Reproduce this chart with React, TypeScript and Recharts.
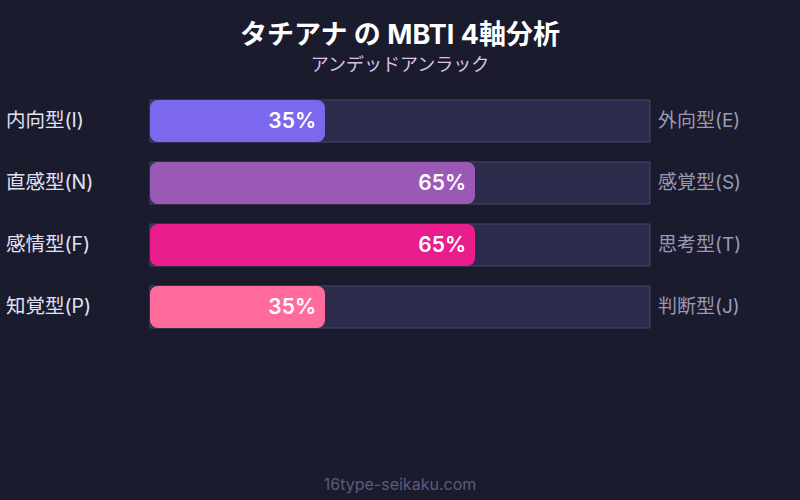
import React from "react";
import { BarChart, Bar, XAxis, YAxis, LabelList } from "recharts";

const leftLabels = ["内向型(I)", "直感型(N)", "感情型(F)", "知覚型(P)"];
const rightLabels = ["外向型(E)", "感覚型(S)", "思考型(T)", "判断型(J)"];
const scores = [35, 65, 65, 35];
const barColors = ["#7b68ee", "#9b59b6", "#e91e8c", "#ff6b9d"];

const data = leftLabels.map((left, i) => ({
  left,
  right: rightLabels[i],
  value: scores[i],
  color: barColors[i],
}));

const FONT = "Inter, 'Noto Sans CJK JP', sans-serif";

const SideLabel = (x: number, fill: string, size: number) => (props: any) => {
  const { y, height, value } = props;
  return (
    <text
      x={x}
      y={y + height / 2}
      dy={6}
      fill={fill}
      fontSize={size}
      fontWeight={400}
      fontFamily={FONT}
      textAnchor="start"
    >
      {value}
    </text>
  );
};

const RoundedBar = (props: any) => {
  const { x, y, width, height, payload } = props;
  return <rect x={x} y={y} width={width} height={height} rx={8} ry={8} fill={payload.color} />;
};

export default function App() {
  return (
    <div
      style={{
        position: "fixed",
        top: 0,
        left: 0,
        width: 800,
        height: 500,
        background: "#1b1b2e",
        fontFamily: FONT,
      }}
    >
      <div
        style={{
          position: "absolute",
          top: 13,
          width: 800,
          textAlign: "center",
          color: "#ffffff",
          fontSize: 27,
          fontWeight: 700,
        }}
      >
        タチアナ の MBTI 4軸分析
      </div>
      <div
        style={{
          position: "absolute",
          top: 50,
          width: 800,
          textAlign: "center",
          color: "#dcc3e6",
          fontSize: 18,
        }}
      >
        アンデッドアンラック
      </div>
      <BarChart
        width={800}
        height={500}
        data={data}
        layout="vertical"
        margin={{ top: 90, right: 150, bottom: 162, left: 150 }}
        barSize={42}
        style={{ position: "absolute", top: 0, left: 0 }}
      >
        <XAxis type="number" domain={[0, 100]} hide />
        <YAxis type="category" dataKey="left" hide />
        <Bar
          dataKey="value"
          isAnimationActive={false}
          shape={<RoundedBar />}
          background={{ fill: "#2d2b4b", stroke: "#46466c", strokeWidth: 1 }}
        >
          <LabelList
            dataKey="value"
            position="insideRight"
            offset={9}
            formatter={(v: any) => `${v}%`}
            fill="#ffffff"
            fontSize={21}
            fontWeight={600}
            fontFamily={FONT}
          />
          <LabelList dataKey="left" content={SideLabel(6, "#e2e2f0", 19.5)} />
          <LabelList dataKey="right" content={SideLabel(658, "#9a9ab2", 19)} />
        </Bar>
      </BarChart>
      <div
        style={{
          position: "absolute",
          top: 474,
          width: 800,
          textAlign: "center",
          color: "#5c5c7c",
          fontSize: 16,
        }}
      >
        16type-seikaku.com
      </div>
    </div>
  );
}
